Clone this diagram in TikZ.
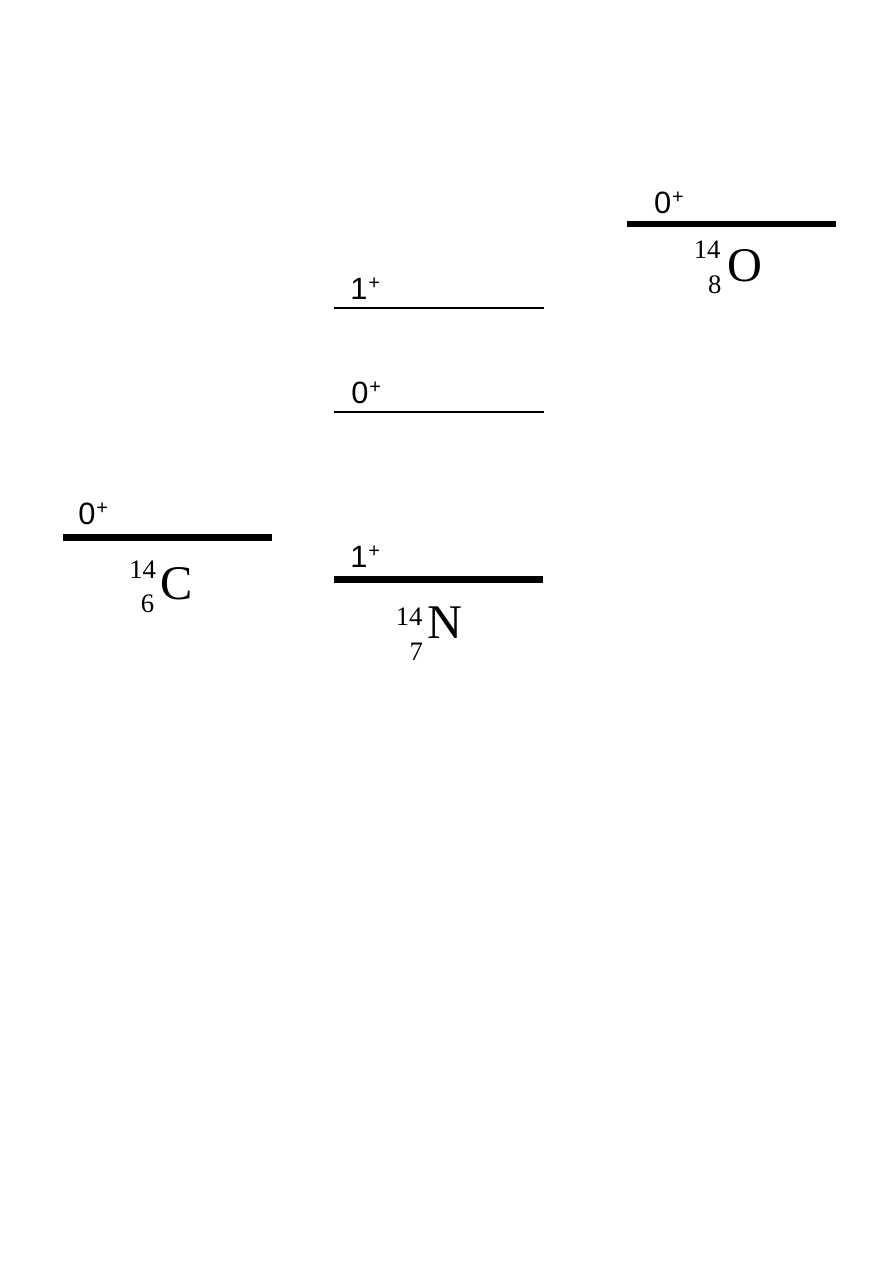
\documentclass[tikz,border=0pt]{standalone}
\usepackage{fontspec}
\setmainfont{Liberation Serif}
\newfontfamily\spinsans{Liberation Sans}
\newcommand{\spinfont}{\spinsans\fontsize{18.5}{20}\selectfont}
\newcommand{\plusfont}{\spinsans\fontsize{12}{13}\selectfont}
\newcommand{\elfont}{\rmfamily\fontsize{29}{32}\selectfont}
\newcommand{\numfont}{\rmfamily\fontsize{16}{18}\selectfont}
\newcommand{\spinlabel}[1]{#1\kern0.6pt\raisebox{6pt}{\plusfont +}}
\tikzset{
  spin/.style={font=\spinfont, inner sep=0pt, anchor=base west},
  elem/.style={font=\elfont, inner sep=0pt, anchor=base west},
  nucnum/.style={font=\numfont, inner sep=0pt, anchor=base west},
  thicklevel/.style={line width=4.1pt, line cap=butt},
  thinlevel/.style={line width=1.2pt, line cap=butt}
}
\begin{document}
\begin{tikzpicture}[x=0.6pt, y=-0.6pt]
\useasboundingbox (0,0) rectangle (893,1263);
\fill[white] (0,0) rectangle (893,1263);

% 14O level
\coordinate (oL) at (627,224);
\coordinate (oR) at (836,224);
\draw[thicklevel] (oL) -- (oR);
\node[spin] (oS) at (653.7,213) {\spinlabel{0}};
\node[nucnum] (oA) at (693.5,258) {14};
\node[nucnum] (oZ) at (707.8,293) {8};
\node[elem] (oE) at (727.4,281) {O};

% 14N excited 1+
\coordinate (n2L) at (333.5,307.7);
\coordinate (n2R) at (543.5,307.7);
\draw[thinlevel] (n2L) -- (n2R);
\node[spin] (n2S) at (350,299) {\spinlabel{1}};

% 14N excited 0+
\coordinate (n1L) at (333.5,412);
\coordinate (n1R) at (543.5,412);
\draw[thinlevel] (n1L) -- (n1R);
\node[spin] (n1S) at (351,403.5) {\spinlabel{0}};

% 14C level
\coordinate (cL) at (63,537.8);
\coordinate (cR) at (271.5,537.8);
\draw[thicklevel] (cL) -- (cR);
\node[spin] (cS) at (78,524.5) {\spinlabel{0}};
\node[nucnum] (cA) at (129,578.3) {14};
\node[nucnum] (cZ) at (140.5,612.7) {6};
\node[elem] (cE) at (160.4,599.5) {C};

% 14N ground 1+
\coordinate (n0L) at (334,579.7);
\coordinate (n0R) at (543.3,579.7);
\draw[thicklevel] (n0L) -- (n0R);
\node[spin] (n0S) at (350,567.3) {\spinlabel{1}};
\node[nucnum] (nA) at (395.5,625.7) {14};
\node[nucnum] (nZ) at (409.3,660) {7};
\node[elem] (nE) at (427,638.3) {N};
\end{tikzpicture}
\end{document}
